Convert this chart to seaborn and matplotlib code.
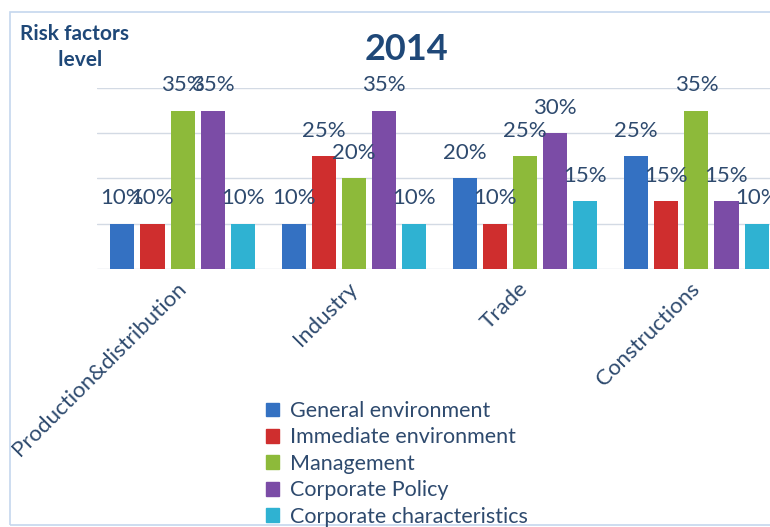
import matplotlib
matplotlib.use("Agg")
import matplotlib.pyplot as plt
import seaborn as sns
import pandas as pd
from matplotlib.patches import Rectangle

categories = ["Production&distribution", "Industry", "Trade", "Constructions"]
series = ["General environment", "Immediate environment", "Management",
          "Corporate Policy", "Corporate characteristics"]
general_env = [10, 10, 20, 25]
immediate_env = [10, 25, 10, 15]
management = [35, 20, 25, 35]
corporate_policy = [35, 35, 30, 15]
corporate_char = [10, 10, 15, 10]
colors = ["#3471C2", "#CF2E2E", "#8DBA3A", "#7B4CA6", "#2FB2D2"]

values = [general_env, immediate_env, management, corporate_policy, corporate_char]
rows = []
for s, vals in zip(series, values):
    for c, v in zip(categories, vals):
        rows.append({"category": c, "series": s, "value": v})
df = pd.DataFrame(rows)

sns.set_theme(style="white")
plt.rcParams["font.family"] = ["Lato", "DejaVu Sans"]

text_col = "#2E4A6E"
fig = plt.figure(figsize=(7.7, 5.27), dpi=100)
ax = fig.add_axes([97 / 770, 1 - 269 / 527, 1 - 97 / 770, (269 - 88) / 527])

sns.barplot(data=df, x="category", y="value", hue="series", palette=colors,
            width=0.88, gap=0.2, ax=ax, legend=False, saturation=1,
            edgecolor="none", linewidth=0)

for cont in ax.containers:
    labs = [f"{int(b.get_height())}%" for b in cont]
    ax.bar_label(cont, labels=labs, padding=11, fontsize=16, color=text_col,
                 clip_on=False)

ax.set_ylim(0, 40)
ax.set_xlim(-0.5, 3.43)
ax.set_yticks([0, 10, 20, 30, 40])
ax.set_yticklabels([])
ax.tick_params(axis="y", length=0)
ax.grid(axis="y", color="#D3DAE4", linewidth=1)
ax.set_axisbelow(True)
for sp in ax.spines.values():
    sp.set_visible(False)
ax.set_xlabel("")
ax.set_ylabel("")
ax.tick_params(axis="x", length=0, pad=12)
ax.set_xticks(range(len(categories)))
ax.set_xticklabels(categories, rotation=45, ha="right", va="center",
                   rotation_mode="anchor", fontsize=16, color=text_col)

fig.text(407 / 770, 1 - 50 / 527, "2014", fontsize=26, fontweight="bold",
         color="#1F4878", ha="center", va="center")
fig.text(75 / 770, 1 - 47 / 527, "Risk factors\n  level", fontsize=15,
         fontweight="bold", color="#1F4878", ha="center", va="center",
         linespacing=1.4)

handles = [Rectangle((0, 0), 1, 1, color=c) for c in colors]
fig.legend(handles, series, loc="upper left",
           bbox_to_anchor=(266 / 770, 1 - 401 / 527), frameon=False,
           fontsize=15.5, labelcolor=text_col, handlelength=0.6,
           handleheight=0.6, handletextpad=0.5, labelspacing=0.3,
           borderaxespad=0, borderpad=0)

fig.patches.append(Rectangle((10 / 770, 0.003), 1.2, 1 - 12 / 527 - 0.003,
                             transform=fig.transFigure, fill=False,
                             edgecolor="#C5D7EE", linewidth=1.2))

fig.savefig("out.png", dpi=100)
